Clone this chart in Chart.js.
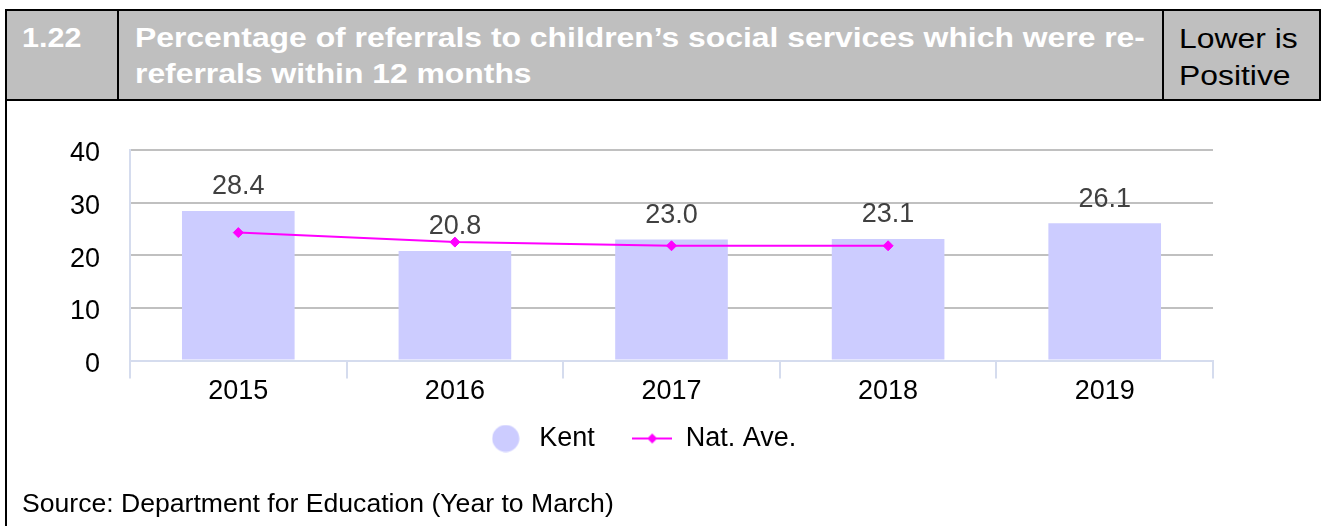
<!DOCTYPE html>
<html>
<head>
<meta charset="utf-8">
<script src="https://cdn.jsdelivr.net/npm/chart.js@4/dist/chart.umd.min.js"></script>
<style>
  body { margin: 0; width: 1322px; height: 526px; position: relative; overflow: hidden; background: #fff;
         font-family: "Liberation Sans", Arial, sans-serif; }
  .hdr { position: absolute; left: 5px; top: 9px; width: 1316px; height: 92px; box-sizing: border-box;
         border: 2px solid #000; background: #bfbfbf; }
  .div1 { position: absolute; left: 110px; top: 0; width: 2px; height: 100%; background: #000; }
  .div2 { position: absolute; left: 1155px; top: 0; width: 2px; height: 100%; background: #000; }
  .num { position: absolute; left: 15px; top: 9px; font-size: 27px; line-height: 36px; font-weight: bold; color: #fff;
         transform: scaleX(1.13); transform-origin: 0 0; }
  .title { position: absolute; left: 128px; top: 9px; font-size: 27px; line-height: 36px; font-weight: bold; color: #fff;
           white-space: nowrap; transform: scaleX(1.18); transform-origin: 0 0; }
  .pos { position: absolute; left: 1172px; top: 10px; font-size: 27px; line-height: 37px; color: #000; white-space: nowrap;
         transform: scaleX(1.18); transform-origin: 0 0; }
  .leftline { position: absolute; left: 5px; top: 100px; width: 2px; height: 426px; background: #000; }
  .source { position: absolute; left: 22px; top: 488px; font-size: 26.6px; line-height: 30px; color: #000; white-space: nowrap; }
  #chart { position: absolute; left: 0; top: 100px; }
</style>
</head>
<body>
<div class="hdr">
  <div class="div1"></div>
  <div class="div2"></div>
  <div class="num">1.22</div>
  <div class="title">Percentage of referrals to children’s social services which were re-<br>referrals within 12 months</div>
  <div class="pos">Lower is<br>Positive</div>
</div>
<div class="leftline"></div>
<canvas id="chart" width="1322" height="400"></canvas>
<div class="source">Source: Department for Education (Year to March)</div>

<script>
const years = ["2015", "2016", "2017", "2018", "2019"];
const kentValues = [28.4, 20.8, 23.0, 23.1, 26.1];
const natAveValues = [24.3, 22.5, 21.8, 21.8, null];

const font = "'Liberation Sans', Arial, sans-serif";
const axisBlue = "#d5dcee";

// legend icons
const kentIcon = document.createElement("canvas");
kentIcon.width = 28;
kentIcon.height = 28;
let c = kentIcon.getContext("2d");
c.fillStyle = "#ccccff";
c.beginPath();
c.arc(14, 14, 13.5, 0, Math.PI * 2);
c.fill();

const natIcon = document.createElement("canvas");
natIcon.width = 40;
natIcon.height = 12;
c = natIcon.getContext("2d");
c.strokeStyle = "#ff00ff";
c.lineWidth = 2;
c.beginPath();
c.moveTo(0, 6);
c.lineTo(40, 6);
c.stroke();
c.fillStyle = "#ff00ff";
c.beginPath();
c.moveTo(20, 1);
c.lineTo(25, 6);
c.lineTo(20, 11);
c.lineTo(15, 6);
c.closePath();
c.fill();

// value labels above the bars
const barLabels = {
    id: "barLabels",
    afterDatasetsDraw(chart) {
        const ctx = chart.ctx;
        const meta = chart.getDatasetMeta(0);
        ctx.save();
        ctx.font = "27px " + font;
        ctx.fillStyle = "#404040";
        ctx.textAlign = "center";
        ctx.textBaseline = "middle";
        meta.data.forEach((bar, i) => {
            ctx.fillText(kentValues[i].toFixed(1), bar.x, bar.y - 24);
        });
        ctx.restore();
    },
};

new Chart(document.getElementById("chart").getContext("2d"), {
    type: "bar",
    data: {
        labels: years,
        datasets: [
            {
                label: "Kent",
                data: kentValues,
                backgroundColor: "#ccccff",
                barPercentage: 0.52,
                categoryPercentage: 1,
                order: 1,
            },
            {
                type: "line",
                label: "Nat. Ave.",
                data: natAveValues,
                borderColor: "#ff00ff",
                borderWidth: 2,
                pointStyle: "rectRot",
                pointRadius: 5,
                pointBackgroundColor: "#ff00ff",
                pointBorderColor: "#ff00ff",
                pointBorderWidth: 1,
                tension: 0,
                order: 0,
            },
        ],
    },
    options: {
        responsive: false,
        animation: false,
        devicePixelRatio: 1,
        layout: { padding: { left: 69, right: 109, top: 50, bottom: 38 } },
        plugins: {
            tooltip: { enabled: false },
            legend: {
                position: "bottom",
                labels: {
                    usePointStyle: true,
                    pointStyleWidth: 40,
                    padding: 22.5,
                    color: "#000",
                    font: { size: 27, family: font },
                    generateLabels: () => [
                        { text: "Kent  ", pointStyle: kentIcon, fillStyle: "#ccccff", strokeStyle: "rgba(0,0,0,0)", lineWidth: 0, datasetIndex: 0, hidden: false },
                        { text: "Nat. Ave.", pointStyle: natIcon, fillStyle: "#ff00ff", strokeStyle: "rgba(0,0,0,0)", lineWidth: 0, datasetIndex: 1, hidden: false },
                    ],
                },
            },
        },
        scales: {
            x: {
                afterFit: (scale) => { scale.height = 42; },
                grid: {
                    drawOnChartArea: false,
                    drawTicks: true,
                    tickLength: 18,
                    color: axisBlue,
                    lineWidth: 2,
                },
                border: { display: true, color: axisBlue, width: 2 },
                ticks: { color: "#000", padding: 0, font: { size: 27, family: font, lineHeight: 1 } },
            },
            y: {
                min: 0,
                max: 40,
                afterFit: (scale) => { scale.width = 61; },
                grid: {
                    drawTicks: false,
                    lineWidth: 2,
                    color: (ctx) => (ctx.tick && ctx.tick.value === 0 ? "rgba(0,0,0,0)" : "#c0c0c0"),
                },
                border: { display: true, color: axisBlue, width: 2 },
                ticks: { stepSize: 10, color: "#000", padding: 30, labelOffset: 4, font: { size: 27, family: font } },
            },
        },
    },
    plugins: [barLabels],
});
</script>
</body>
</html>
